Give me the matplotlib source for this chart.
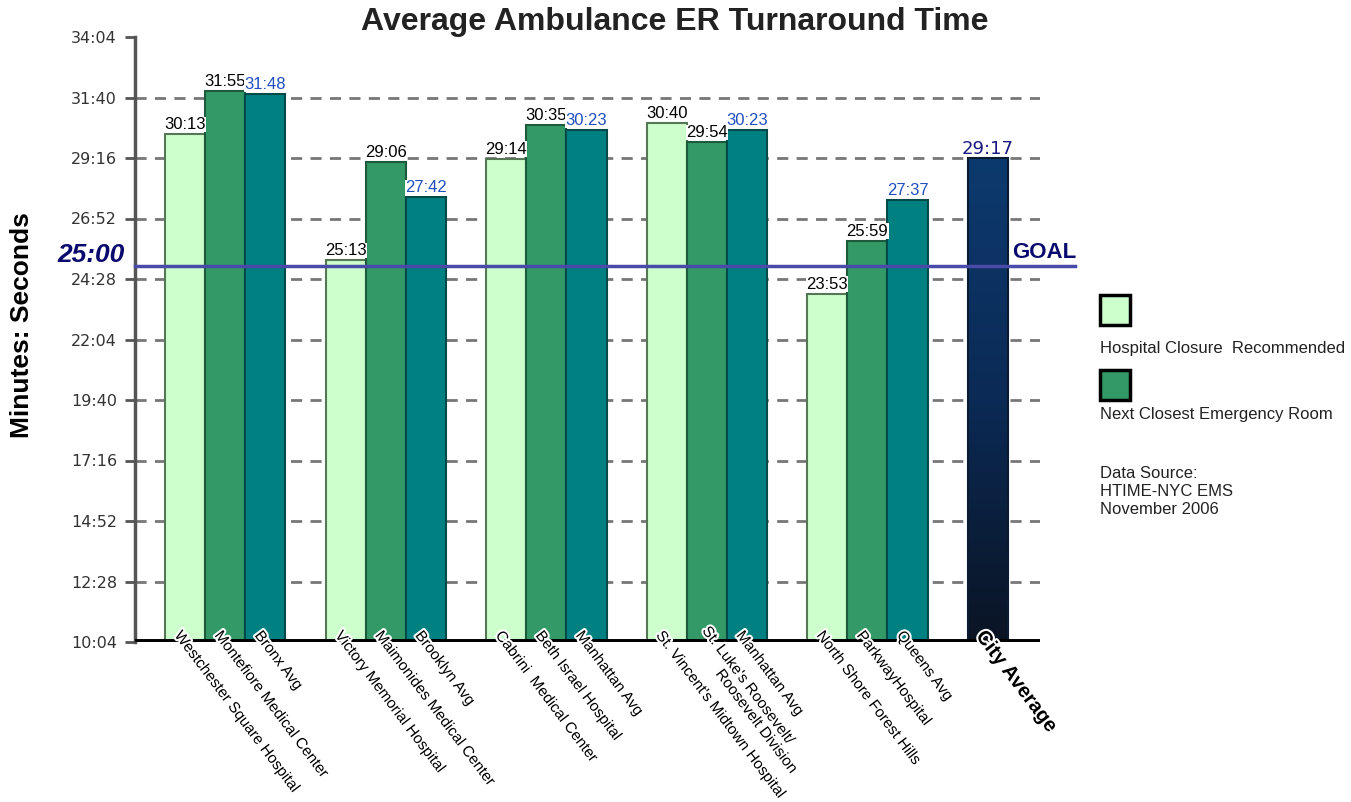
import matplotlib
matplotlib.use('Agg')
import numpy as np
import matplotlib.pyplot as plt
import matplotlib.patheffects as pe
from matplotlib.patches import Rectangle
from matplotlib.ticker import FuncFormatter
from matplotlib.colors import LinearSegmentedColormap

# bar labels (three per borough group + city average)
hospitals = ["Westchester Square Hospital", "Montefiore Medical Center", "Bronx Avg",
             "Victory Memorial Hospital", "Maimonides Medical Center", "Brooklyn Avg",
             "Cabrini  Medical Center", "Beth Israel Hospital", "Manhattan Avg",
             "St. Vincent's Midtown Hospital", "St. Luke's Roosevelt/\n          Roosevelt Division", "Manhattan Avg",
             "North Shore Forest Hills", "ParkwayHospital", "Queens Avg"]
# turnaround times as "mm:ss"
closure_times = ["30:13", "25:13", "29:14", "30:40", "23:53"]
next_er_times = ["31:55", "29:06", "30:35", "29:54", "25:59"]
borough_avg_times = ["31:48", "27:42", "30:23", "30:23", "27:37"]
city_label = "City Average"
city_time = "29:17"
goal_time = "25:00"

def to_sec(s):
    m, sec = s.split(":")
    return int(m) * 60 + int(sec)

def fmt(v, pos=None):
    v = int(round(v))
    return "%d:%02d" % (v // 60, v % 60)

arial = ['Liberation Sans', 'DejaVu Sans']

c_light = '#ccffcc'
c_green = '#339966'
c_teal = '#008080'
label_blue = '#1f4fbf'

fig = plt.figure(figsize=(13.51, 8.02), dpi=100)
ax = fig.add_axes([135/1351, 160/802, 905/1351, 605/802])

ymin, ymax = 604, 2044
ax.set_ylim(ymin, ymax)
ax.set_xlim(-1.25, 21.3)

ticks = np.arange(ymin, ymax + 1, 144)
ax.set_yticks(ticks)
ax.yaxis.set_major_formatter(FuncFormatter(fmt))
ax.tick_params(axis='y', length=7, width=2, color='#555', labelsize=11.5,
               labelcolor='#333', pad=6)
for t in ticks[1:-1]:
    ax.axhline(t, color='#777', lw=2, ls=(0, (4, 3)), zorder=0)

for s in ['top', 'right', 'bottom']:
    ax.spines[s].set_visible(False)
ax.spines['left'].set_color('#555')
ax.spines['left'].set_linewidth(2.5)
ax.set_xticks([])

series = [(closure_times, c_light, '#557755', 'black'),
          (next_er_times, c_green, '#1d5a3c', 'black'),
          (borough_avg_times, c_teal, '#004a4a', label_blue)]

k = 0
for g in range(5):
    for b, (vals, col, ec, lc) in enumerate(series):
        x = g * 4 + b
        v = to_sec(vals[g])
        ax.bar(x, v - ymin, bottom=ymin, width=1.0, color=col, edgecolor=ec,
               linewidth=1.5, zorder=2)
        ax.annotate(vals[g], (x, v), xytext=(0, 1.5), textcoords='offset points',
                    ha='center', va='bottom', fontsize=12, family=arial,
                    color=lc, zorder=6,
                    bbox=dict(facecolor='white', edgecolor='none', pad=0.2))
        ax.text(x - 0.2, 0.015, hospitals[k], transform=ax.get_xaxis_transform(),
                rotation=-53, rotation_mode='anchor', ha='left', va='center',
                fontsize=11, family=arial, color='black', clip_on=False,
                zorder=7, linespacing=1.1,
                path_effects=[pe.withStroke(linewidth=3, foreground='white')])
        k += 1

# city average bar with dark gradient
cx = 20
cv = to_sec(city_time)
cb = ax.bar(cx, cv - ymin, bottom=ymin, width=1.0, color='none',
            edgecolor='#0a1a30', linewidth=1.5, zorder=3)[0]
grad = np.linspace(0, 1, 256).reshape(-1, 1)
cmap = LinearSegmentedColormap.from_list('navy', ['#0a1424', '#0b2a55', '#0d3a6e'])
im = ax.imshow(grad, cmap=cmap, aspect='auto', origin='lower',
               extent=(cx - 0.5, cx + 0.5, ymin, cv), zorder=2)
im.set_clip_path(cb)
ax.set_xlim(-1.25, 21.3)
ax.set_ylim(ymin, ymax)
ax.annotate(city_time, (cx, cv), xytext=(0, 0), textcoords='offset points',
            ha='center', va='bottom', fontsize=13, family='DejaVu Sans',
            color='#1a1a80', zorder=6)
ax.text(cx - 0.2, 0.015, city_label, transform=ax.get_xaxis_transform(),
        rotation=-53, rotation_mode='anchor', ha='left', va='center',
        fontsize=14.5, family=arial, weight='bold', color='black', clip_on=False,
        zorder=7, path_effects=[pe.withStroke(linewidth=3, foreground='white')])

# baseline and goal line
ax.axhline(ymin, color='black', lw=5, zorder=5, xmax=1.0)
gv = to_sec(goal_time)
ax.axhline(gv, xmin=0, xmax=(1075 - 135) / 905, color='#4a4aa8', lw=2.5,
           zorder=4, clip_on=False)
fig.text(1012/1351, 1 - 252/802, "GOAL", fontsize=16, family=arial,
         weight='bold', color='#0a0a6e', ha='left', va='center',
         bbox=dict(facecolor='white', edgecolor='none', pad=1))
fig.text(125/1351, 1 - 255/802, goal_time, fontsize=19, family=arial,
         weight='bold', style='italic', color='#0a0a6e', ha='right', va='center')

fig.text(0.4996, 1 - 22/802, "Average Ambulance ER Turnaround Time",
         fontsize=23, family=arial, weight='bold', color='#222',
         ha='center', va='center')
fig.text(22/1351, 1 - 325/802, "Minutes: Seconds", fontsize=19, family=arial,
         weight='bold', rotation=90, ha='center', va='center', color='black')

# legend
for y0, col in [(295, c_light), (370, c_green)]:
    fig.add_artist(Rectangle((1100/1351, 1 - (y0 + 30)/802), 30/1351, 30/802,
                             transform=fig.transFigure, facecolor=col,
                             edgecolor='black', linewidth=2.5))
fig.text(1100/1351, 1 - 348/802, "Hospital Closure  Recommended", fontsize=12,
         family=arial, color='#222', ha='left', va='center')
fig.text(1100/1351, 1 - 414/802, "Next Closest Emergency Room", fontsize=12,
         family=arial, color='#222', ha='left', va='center')
fig.text(1100/1351, 1 - 491/802, "Data Source:\nHTIME-NYC EMS\nNovember 2006",
         fontsize=12, family=arial, color='#222', ha='left', va='center',
         linespacing=1.25)

fig.savefig('out.png', dpi=100, facecolor='white')
